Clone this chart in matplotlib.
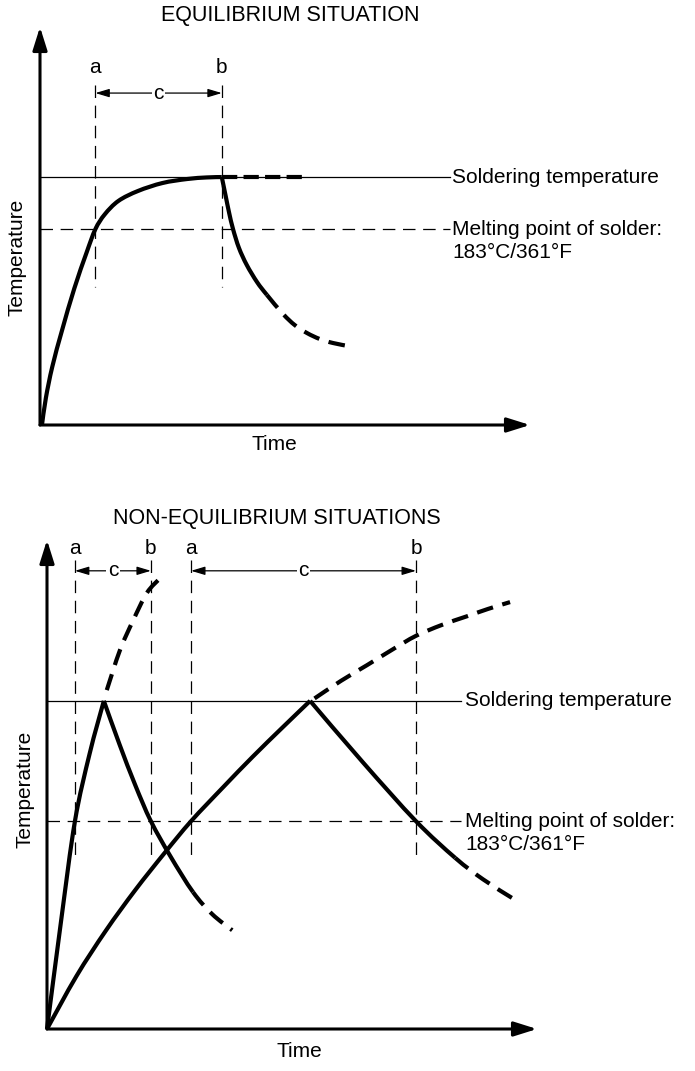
import numpy as np
import matplotlib.pyplot as plt
from matplotlib.path import Path
from matplotlib.patches import PathPatch

plt.rcParams['font.family'] = ['Liberation Sans', 'DejaVu Sans']
plt.rcParams['lines.scale_dashes'] = False

# ---- equilibrium case (time / temperature in arbitrary units, 0-100) ----
eq_solder = 62.3
eq_melt = 49.2
eq_a, eq_b = 11.3, 37.1

eq_heat_t = [0.4, 1.2, 2.5, 4.5, 7.0, 9.5, 11.3, 13.2, 16.0, 20.0, 25.0, 30.0, 34.0, 37.1]
eq_heat_T = [0.0, 6.8, 14.6, 23.8, 34.3, 43.3, 49.2, 52.9, 56.3, 58.8, 60.8, 61.8, 62.2, 62.3]
# cooling: solid up to index 7, dashed after
eq_cool_t = [37.1, 37.9, 38.6, 39.4, 40.6, 42.2, 44.3, 46.3, 49.6, 52.0, 54.5, 57.1, 59.8, 63.1]
eq_cool_T = [62.3, 57.5, 53.3, 49.2, 44.5, 40.2, 35.9, 32.7, 27.9, 25.1, 23.1, 21.6, 20.6, 19.8]
eq_cool_solid = 7
eq_hold_t = [37.1, 53.7]

# ---- non-equilibrium cases ----
ne_solder = 67.1
ne_melt = 42.5
fast_a, fast_b = 5.7, 21.2
slow_a, slow_b = 29.4, 75.3

fast_rise_t = [0.0, 2.9, 5.7, 8.7, 11.6]
fast_rise_T = [0.0, 22.3, 42.5, 56.3, 67.1]
fast_over_t = [12.2, 14.9, 17.6, 20.4, 23.1]
fast_over_T = [69.3, 77.5, 83.6, 89.2, 92.2]
fast_cool_t = [11.6, 14.8, 18.0, 21.2, 25.2, 29.8, 33.7, 37.8]
fast_cool_T = [67.1, 58.2, 49.9, 42.5, 35.3, 28.0, 23.5, 20.2]
fast_cool_solid = 5

slow_rise_t = [0.0, 6.0, 12.0, 18.0, 24.0, 29.4, 36.0, 42.0, 48.0, 53.7]
slow_rise_T = [0.0, 10.8, 20.1, 28.4, 36.0, 42.5, 49.5, 55.7, 61.6, 67.1]
slow_over_t = [54.6, 60.0, 65.3, 70.5, 75.3, 80.5, 85.7, 90.0, 94.5]
slow_over_T = [67.6, 71.2, 74.4, 77.6, 80.4, 82.6, 84.4, 85.9, 87.3]
slow_cool_t = [53.7, 64.5, 75.3, 83.3, 89.0, 94.9]
slow_cool_T = [67.1, 54.5, 42.5, 35.0, 30.6, 26.8]
slow_cool_solid = 3

FS = 15
THICK = 3.0
THIN = 0.9
THIN_DASH = (9.0, 5.5)
THICK_DASH = (12.0, 7.0)
HOLD_DASH = (11.0, 4.5)

W, H = 695, 1071
fig = plt.figure(figsize=(W / 100, H / 100), dpi=100)


def px_axes(left, right, bottom, top):
    return fig.add_axes([left / W, 1 - bottom / H, (right - left) / W, (bottom - top) / H])


def setup(ax):
    ax.set_xlim(0, 100)
    ax.set_ylim(0, 100)
    ax.axis('off')
    arrow = dict(arrowstyle='-|>,head_length=0.7,head_width=0.22', lw=2.2,
                 color='black', shrinkA=0, shrinkB=0, mutation_scale=20)
    ax.annotate('', xy=(0, 100), xytext=(0, 0), arrowprops=arrow, annotation_clip=False)
    ax.annotate('', xy=(100, 0), xytext=(0, 0), arrowprops=arrow, annotation_clip=False)


def level_lines(ax, solder, melt, x_end, x_text):
    ax.plot([0, x_end], [solder, solder], color='black', lw=THIN, clip_on=False)
    ax.plot([0, x_end], [melt, melt], color='black', lw=THIN, dashes=THIN_DASH, clip_on=False)
    ax.text(x_text, solder, 'Soldering temperature', fontsize=FS, va='center', ha='left')
    ax.text(x_text, melt, 'Melting point of solder:', fontsize=FS, va='center', ha='left')
    ax.annotate('183°C/361°F', xy=(x_text, melt), xytext=(0, -17), textcoords='offset points',
                fontsize=FS, va='center', ha='left')


def span(ax, xa, xb, y_top, y_arrow, y_bottom, y_label):
    for x, lab in ((xa, 'a'), (xb, 'b')):
        ax.plot([x, x], [y_top, y_bottom], color='black', lw=THIN, dashes=THIN_DASH, clip_on=False)
        ax.text(x, y_label, lab, fontsize=FS, ha='center', va='center')
    ax.annotate('', xy=(xa, y_arrow), xytext=(xb, y_arrow), annotation_clip=False,
                arrowprops=dict(arrowstyle='<|-|>,head_length=0.6,head_width=0.18', lw=THIN,
                                color='black', shrinkA=0, shrinkB=0, mutation_scale=14))
    ax.text((xa + xb) / 2, y_arrow, 'c', fontsize=FS, ha='center', va='center',
            bbox=dict(facecolor='white', edgecolor='none', pad=1.0))


def bezier_segments(t, T):
    # Catmull-Rom through the points, as cubic Bezier pieces
    p = np.column_stack([t, T]).astype(float)
    ext = np.vstack([p[0], p, p[-1]])
    segs = []
    for i in range(len(p) - 1):
        p0, p1, p2, p3 = ext[i], ext[i + 1], ext[i + 2], ext[i + 3]
        segs.append((p1, p1 + (p2 - p0) / 6, p2 - (p3 - p1) / 6, p2))
    return segs


def draw_segs(ax, segs, dashes=None):
    verts = [segs[0][0]]
    codes = [Path.MOVETO]
    for _, c1, c2, end in segs:
        verts += [c1, c2, end]
        codes += [Path.CURVE4] * 3
    ls = '-' if dashes is None else (0, dashes)
    ax.add_patch(PathPatch(Path(verts, codes), facecolor='none', edgecolor='black',
                           lw=THICK, linestyle=ls, capstyle='butt', joinstyle='round',
                           clip_on=False))


def curve(ax, t, T, solid_upto=None, dashed=False):
    segs = bezier_segments(t, T)
    if dashed:
        draw_segs(ax, segs, THICK_DASH)
    elif solid_upto is None:
        draw_segs(ax, segs)
    else:
        draw_segs(ax, segs[:solid_upto])
        draw_segs(ax, segs[solid_upto:], THICK_DASH)


# ---- top panel ----
ax1 = px_axes(40, 530, 425, 27)
setup(ax1)
level_lines(ax1, eq_solder, eq_melt, 83.7, 84.1)
span(ax1, eq_a, eq_b, 85.4, 83.4, 34.7, 89.7)
curve(ax1, eq_heat_t, eq_heat_T)
curve(ax1, eq_cool_t, eq_cool_T, solid_upto=eq_cool_solid)
ax1.plot(eq_hold_t, [eq_solder, eq_solder], color='black', lw=THICK, dashes=HOLD_DASH,
         dash_capstyle='butt', clip_on=False)
ax1.text(-4.7, 42, 'Temperature', fontsize=FS, rotation=90, ha='center', va='center')
ax1.text(47.8, -4.8, 'Time', fontsize=FS, ha='center', va='center')
fig.text(290 / W, 1 - 15 / H, 'EQUILIBRIUM SITUATION', fontsize=15.5, ha='center', va='center')

# ---- bottom panel ----
ax2 = px_axes(47, 537, 1029, 540)
setup(ax2)
level_lines(ax2, ne_solder, ne_melt, 84.5, 85.3)
span(ax2, fast_a, fast_b, 95.9, 93.7, 35.6, 98.2)
span(ax2, slow_a, slow_b, 95.9, 93.7, 35.6, 98.2)
curve(ax2, fast_rise_t, fast_rise_T)
curve(ax2, fast_over_t, fast_over_T, dashed=True)
curve(ax2, fast_cool_t, fast_cool_T, solid_upto=fast_cool_solid)
curve(ax2, slow_rise_t, slow_rise_T)
curve(ax2, slow_over_t, slow_over_T, dashed=True)
curve(ax2, slow_cool_t, slow_cool_T, solid_upto=slow_cool_solid)
ax2.text(-4.5, 49.1, 'Temperature', fontsize=FS, rotation=90, ha='center', va='center')
ax2.text(51.6, -4.5, 'Time', fontsize=FS, ha='center', va='center')
fig.text(277 / W, 1 - 518 / H, 'NON-EQUILIBRIUM SITUATIONS', fontsize=15.5, ha='center', va='center')

fig.savefig('out.png', dpi=100, facecolor='white')
